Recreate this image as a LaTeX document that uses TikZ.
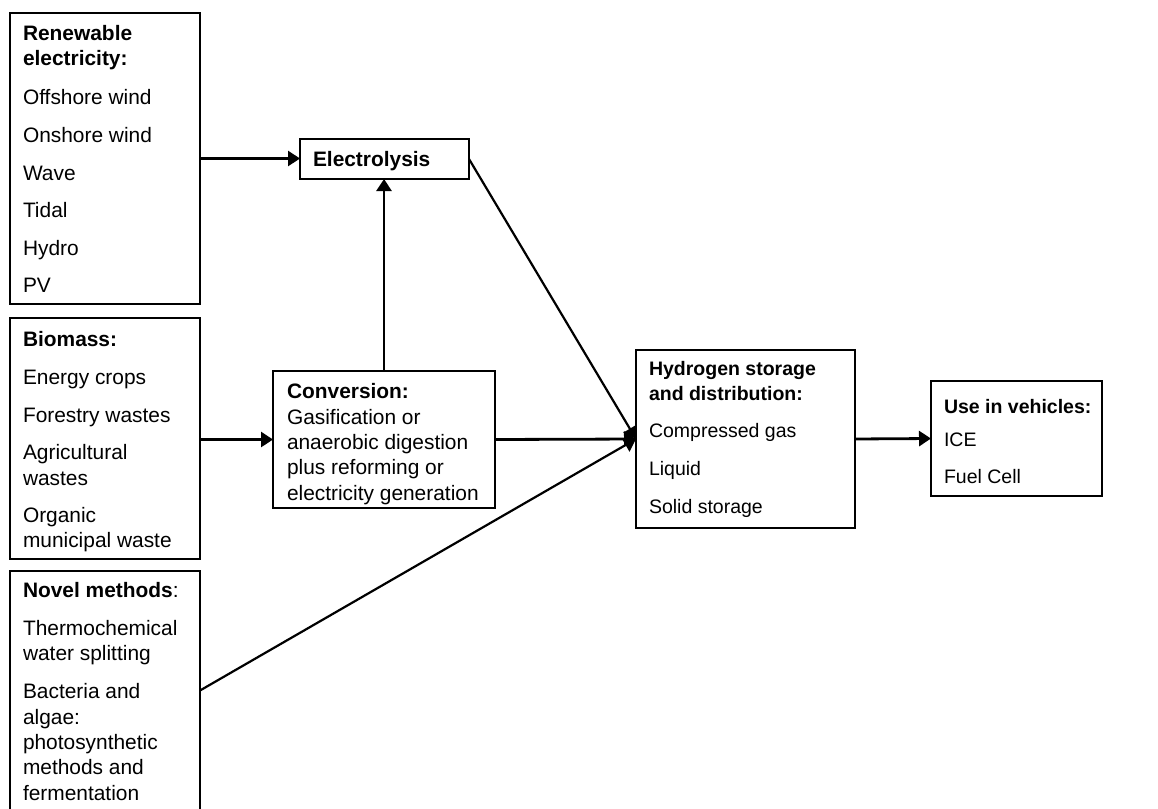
\documentclass[tikz,border=0pt]{standalone}
\usepackage{fontspec}
\setmainfont{Liberation Sans}
\usetikzlibrary{arrows.meta}
\begin{document}
\begin{tikzpicture}[x=1pt,y=-1pt,
  every node/.style={font=\fontsize{20.9}{25.4}\selectfont},
  box/.style={draw, line width=1.8pt, inner sep=0pt, outer sep=0pt, anchor=north west},
  txt/.style={anchor=base west, inner sep=0pt, outer sep=0pt},
  rtxt/.style={txt, font=\fontsize{19.5}{24}\selectfont},
  arr/.style={line width=2.8pt, -{Triangle[length=12pt,width=15pt]}},
  darr/.style={line width=2.2pt, -{Triangle[length=12pt,width=15pt]}}]
\clip (0,0) rectangle (1158,808);
\fill[white] (0,0) rectangle (1158,808);
% boxes
\node[box, minimum width=190pt, minimum height=291pt] (ren) at (10,13) {};
\node[box, minimum width=190pt, minimum height=241pt] (bio) at (10,318) {};
\node[box, minimum width=190pt, minimum height=239pt] (nov) at (10,571) {};
\node[box, minimum width=169pt, minimum height=40pt] (elec) at (300,139) {};
\node[box, minimum width=222pt, minimum height=137pt] (conv) at (273,371) {};
\node[box, minimum width=219pt, minimum height=178pt] (hyd) at (636,350) {};
\node[box, minimum width=171pt, minimum height=115pt] (use) at (931,381) {};
% renewable text
\node[txt] (r1) at (23,40.5) {\textbf{Renewable}};
\node[txt] (r2) at (23,65.8) {\textbf{electricity:}};
\node[txt] (r3) at (23,104.3) {Offshore wind};
\node[txt] (r4) at (23,142.3) {Onshore wind};
\node[txt] (r5) at (23,180) {Wave};
\node[txt] (r6) at (23,217.5) {Tidal};
\node[txt] (r7) at (23,255) {Hydro};
\node[txt] (r8) at (23,292.5) {PV};
% biomass text
\node[txt] (b1) at (23,346.5) {\textbf{Biomass:}};
\node[txt] (b2) at (23,384.5) {Energy crops};
\node[txt] (b3) at (23,422) {Forestry wastes};
\node[txt] (b4) at (23,459.5) {Agricultural};
\node[txt] (b5) at (23,485) {wastes};
\node[txt] (b6) at (23,522) {Organic};
\node[txt] (b7) at (23,547) {municipal waste};
% novel text
\node[txt] (n1) at (23,597.5) {\textbf{Novel methods}:};
\node[txt] (n2) at (23,635.5) {Thermochemical};
\node[txt] (n3) at (23,660.8) {water splitting};
\node[txt] (n4) at (23,698.8) {Bacteria and};
\node[txt] (n5) at (23,724) {algae:};
\node[txt] (n6) at (23,749.4) {photosynthetic};
\node[txt] (n7) at (23,774.7) {methods and};
\node[txt] (n8) at (23,800) {fermentation};
% electrolysis
\node[txt] (e1) at (313,166.7) {\textbf{Electrolysis}};
% conversion
\node[txt] (c1) at (287,398.3) {\textbf{Conversion:}};
\node[txt] (c2) at (287,424) {Gasification or};
\node[txt] (c3) at (287,449.4) {anaerobic digestion};
\node[txt] (c4) at (287,474.8) {plus reforming or};
\node[txt] (c5) at (287,500.2) {electricity generation};
% hydrogen
\node[rtxt] (h1) at (649,375.5) {\textbf{Hydrogen storage}};
\node[rtxt] (h2) at (649,400.5) {\textbf{and distribution:}};
\node[rtxt] (h3) at (649,437.5) {Compressed gas};
\node[rtxt] (h4) at (649,475.5) {Liquid};
\node[rtxt] (h5) at (649,513) {Solid storage};
% use
\node[rtxt] (u1) at (944,413) {\textbf{Use in vehicles:}};
\node[rtxt] (u2) at (944,446) {ICE};
\node[rtxt] (u3) at (944,483.5) {Fuel Cell};
% connectors
\draw[arr] (ren.east) -- (ren.east -| elec.west);
\draw[arr] (conv.north) -- (conv.north |- elec.south);
\draw[arr] (conv.west -| bio.east) -- (conv.west);
\draw[arr] (conv.east) -- (hyd.west);
\draw[darr] (elec.east) -- (hyd.west);
\draw[darr] (nov.east) -- (hyd.west);
\draw[arr] (hyd.east) -- (use.west);
\end{tikzpicture}
\end{document}
